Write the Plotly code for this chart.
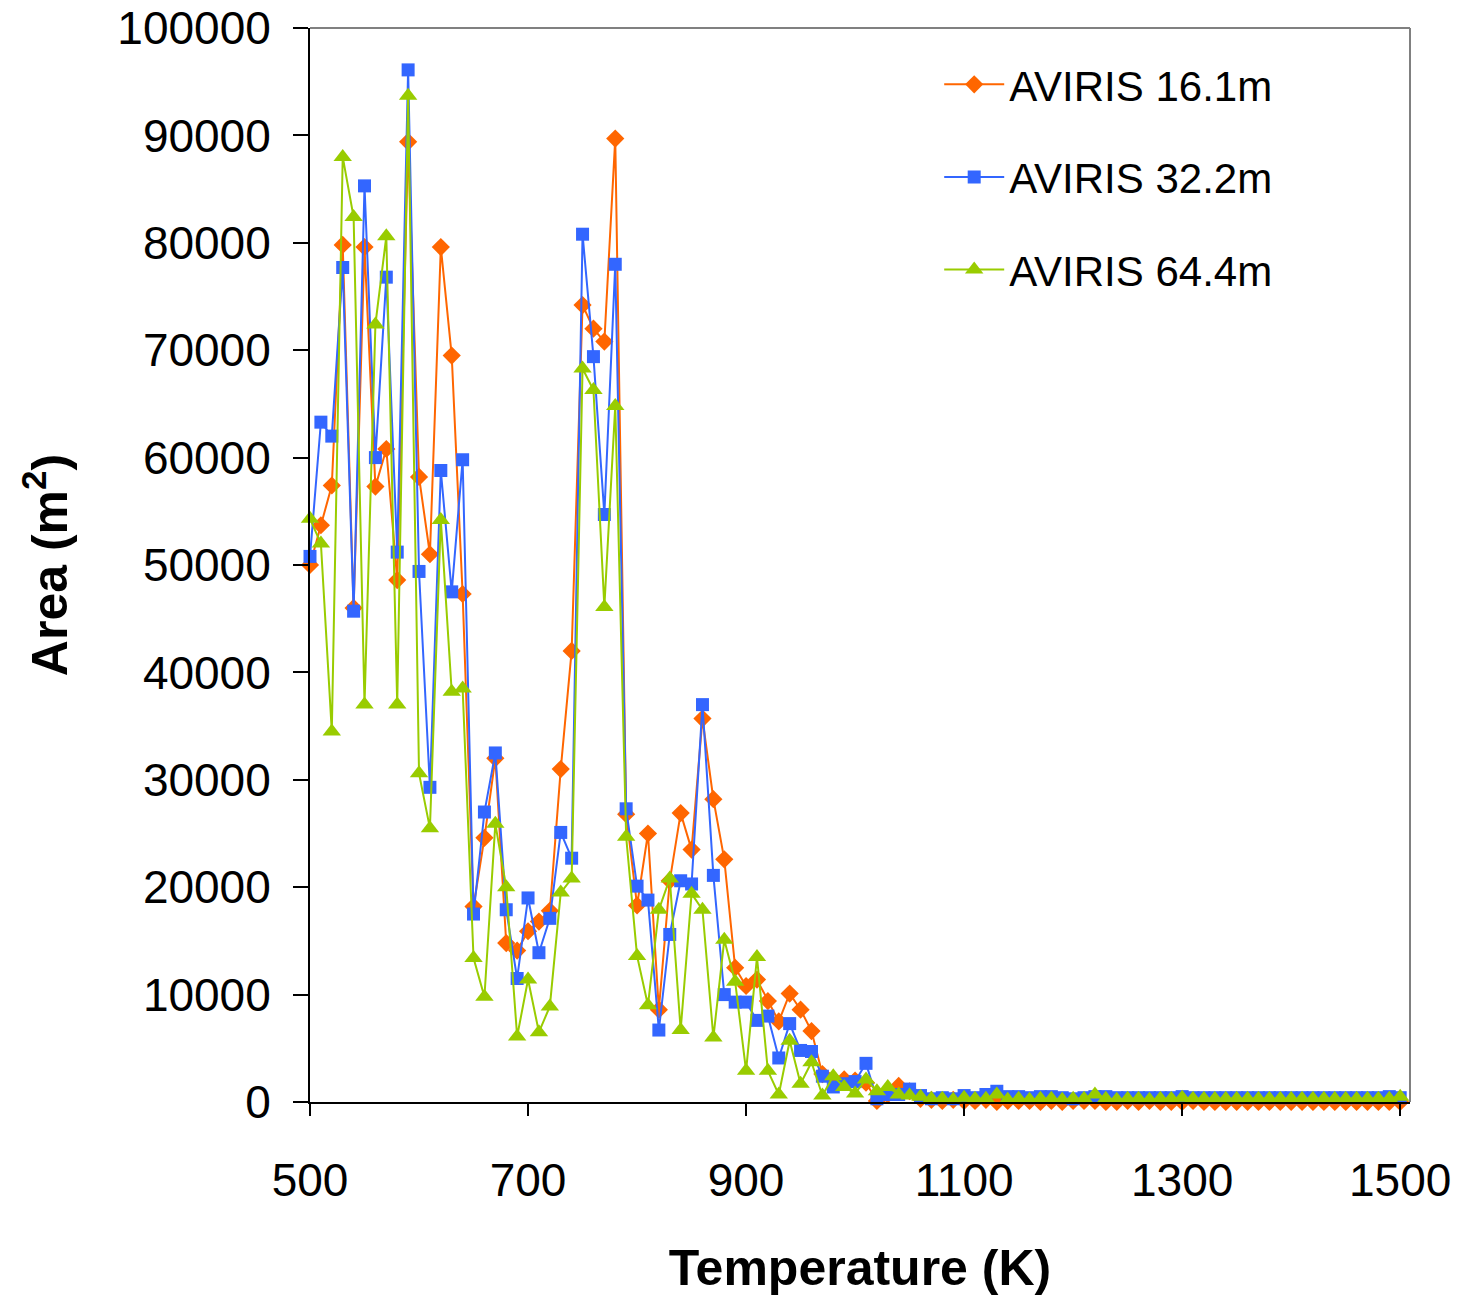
import plotly.graph_objects as go

temperature = list(range(500, 1510, 10))

aviris_16 = [
    50000, 53700, 57400, 79800, 46000, 79600, 57300, 60800, 48600, 89400,
    58200, 51000, 79600, 69500, 47300, 18200, 24600, 32000, 14800, 14100,
    15900, 16800, 17800, 31000, 42000, 74200, 72000, 70800, 89700, 26800,
    18300, 25000, 8600, 20600, 26900, 23500, 35700, 28200, 22600, 12500,
    10800, 11400, 9400, 7500, 10100, 8600, 6600, 2600, 2100, 2100,
    2000, 1800, 100, 700, 1500, 1000,
    300, 200, 100, 200, 100, 100, 200, 0, 100, 100,
    100, 0, 100, 0, 100, 100, 100, 0, 0, 100,
    0, 100, 0, 0, 0, 100, 0, 0, 0, 0,
    0, 0, 0, 0, 0, 0, 0, 0, 0, 0,
    0, 0, 0, 0, 0,
]

aviris_32 = [
    50800, 63300, 62000, 77700, 45700, 85300, 60000, 76800, 51200, 96100,
    49400, 29300, 58800, 47500, 59800, 17500, 27000, 32500, 17900, 11500,
    19000, 13900, 17100, 25100, 22700, 80800, 69400, 54700, 78000, 27300,
    20100, 18800, 6700, 15600, 20600, 20300, 37000, 21100, 10000, 9300,
    9300, 7600, 8000, 4100, 7300, 4800, 4700, 2400, 1400, 1700,
    1900, 3600, 300, 700, 700, 1200,
    600, 300, 400, 300, 600, 400, 700, 1000, 500, 500,
    400, 500, 500, 400, 300, 400, 500, 500, 400, 400,
    400, 400, 400, 400, 500, 400, 400, 400, 400, 400,
    400, 400, 400, 400, 400, 400, 400, 400, 400, 400,
    400, 400, 400, 500, 400,
]

aviris_64 = [
    54300, 52000, 34500, 88000, 82400, 37000, 72400, 80600, 37000, 93700,
    30600, 25500, 54200, 38200, 38500, 13400, 9800, 25900, 20000, 6100,
    11400, 6500, 8900, 19500, 20800, 68300, 66300, 46100, 64800, 24700,
    13600, 9000, 17900, 20800, 6700, 19400, 17900, 6000, 15100, 11200,
    2900, 13500, 2900, 700, 5700, 1700, 3700, 600, 2400, 1400,
    800, 2100, 1000, 1400, 700, 600,
    500, 300, 300, 200, 400, 300, 300, 700, 200, 300,
    200, 300, 300, 200, 300, 300, 700, 300, 200, 300,
    300, 200, 300, 300, 400, 300, 300, 300, 300, 300,
    300, 300, 300, 300, 300, 300, 300, 300, 300, 300,
    300, 300, 300, 300, 500,
]

series_names = ["AVIRIS 16.1m", "AVIRIS 32.2m", "AVIRIS 64.4m"]
series_values = [aviris_16, aviris_32, aviris_64]
colors = ["#FF6600", "#3366FF", "#99CC00"]
symbols = ["diamond", "square", "triangle-up"]
sizes = [14, 13, 16]

x_tick_vals = [500, 700, 900, 1100, 1300, 1500]
x_tick_text = ["500", "700", "900", "1100", "1300", "1500"]
y_tick_vals = [0, 10000, 20000, 30000, 40000, 50000, 60000, 70000, 80000, 90000, 100000]
y_tick_text = ["0", "10000", "20000", "30000", "40000", "50000",
               "60000", "70000", "80000", "90000", "100000"]

FONT = "Liberation Sans, Arial, sans-serif"

fig = go.Figure()
for i, (name, vals) in enumerate(zip(series_names, series_values)):
    fig.add_trace(go.Scatter(
        x=temperature, y=vals, name=name, mode="lines+markers",
        line=dict(color=colors[i], width=2),
        marker=dict(symbol=symbols[i], size=sizes[i], color=colors[i]),
        legendgroup=f"g{i}", cliponaxis=False,
    ))

fig.update_layout(
    width=1461, height=1300,
    paper_bgcolor="white", plot_bgcolor="white",
    margin=dict(l=310, r=51, t=28, b=198, autoexpand=False),
    font=dict(family=FONT, color="black"),
    showlegend=True,
    legend=dict(
        x=0.572, y=0.979, xanchor="left", yanchor="top",
        font=dict(size=42, family=FONT, color="black"),
        bgcolor="rgba(0,0,0,0)", borderwidth=0,
        tracegroupgap=35, itemwidth=60,
    ),
    xaxis=dict(
        range=[500, 1509], tickvals=x_tick_vals, ticktext=x_tick_text,
        ticks="outside", ticklen=12, tickwidth=2, tickcolor="black",
        showline=True, linecolor="black", linewidth=2,
        showgrid=False, zeroline=False, automargin=False,
        tickfont=dict(size=46, family=FONT),
        ticklabelstandoff=25, ticklabeloverflow="allow",
        title=dict(text="<b>Temperature (K)</b>", font=dict(size=50, family=FONT), standoff=45),
    ),
    yaxis=dict(
        range=[0, 100000], tickvals=y_tick_vals, ticktext=y_tick_text,
        ticks="outside", ticklen=15, tickwidth=2, tickcolor="black",
        showline=True, linecolor="black", linewidth=2,
        showgrid=False, zeroline=False, automargin=False,
        tickfont=dict(size=46, family=FONT),
        ticklabelstandoff=13, ticklabeloverflow="allow",
        title=dict(text="<b>Area (m<sup>2</sup>)</b>", font=dict(size=50, family=FONT), standoff=34),
    ),
    shapes=[
        dict(type="line", xref="paper", yref="paper", x0=0, x1=1, y0=1, y1=1,
             line=dict(color="#808080", width=2)),
        dict(type="line", xref="paper", yref="paper", x0=1, x1=1, y0=0, y1=1,
             line=dict(color="#808080", width=2)),
    ],
)

fig.write_html("out.html", config={"displayModeBar": False},
               post_script="document.body.style.margin='0';")
